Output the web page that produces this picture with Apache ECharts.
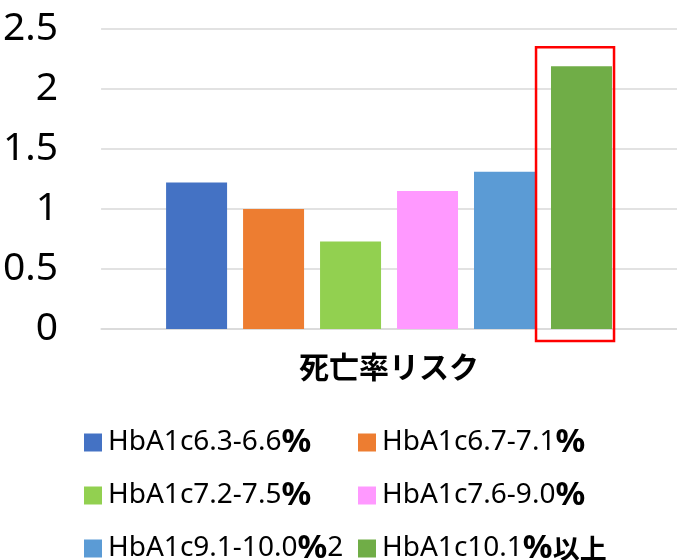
<!DOCTYPE html>
<html>
<head>
<meta charset="utf-8">
<script src="https://cdn.jsdelivr.net/npm/echarts@6/dist/echarts.min.js"></script>
<style>
  html, body { margin: 0; padding: 0; background: #fff; }
  #chart { width: 677px; height: 560px; }
</style>
</head>
<body>
<div id="chart"></div>
<script>
// data
var categories = ["死亡率リスク"];
var seriesNames = [
  "HbA1c6.3-6.6%",
  "HbA1c6.7-7.1%",
  "HbA1c7.2-7.5%",
  "HbA1c7.6-9.0%",
  "HbA1c9.1-10.0%2",
  "HbA1c10.1%以上"
];
var riskValues = [1.22, 1.0, 0.73, 1.15, 1.31, 2.19];
var colors = ["#4472C4", "#ED7D31", "#92D050", "#FF99FF", "#5B9BD5", "#70AD47"];
var highlightIndex = 5;

var BAR_W = 61;
var BAR_GAP = 16;

var chart = echarts.init(document.getElementById("chart"));

var series = seriesNames.map(function (name, i) {
  return {
    name: name,
    type: "bar",
    barWidth: BAR_W,
    barGap: (BAR_GAP / BAR_W * 100).toFixed(1) + "%",
    itemStyle: { color: colors[i] },
    data: [riskValues[i]]
  };
});

// "%" and the kanji are drawn heavier in the original legend
function legendLabel(name) {
  return name.replace("%", "{p|%}").replace("以上", "{k|以上}");
}

// one legend per item, laid out 2 columns x 3 rows
var legends = seriesNames.map(function (name, i) {
  return {
    left: i % 2 === 0 ? 84 : 358,
    top: 426 + Math.floor(i / 2) * 53,
    itemWidth: 18,
    itemHeight: 18,
    itemGap: 0,
    icon: "rect",
    selectedMode: false,
    padding: 0,
    formatter: legendLabel,
    textStyle: {
      fontFamily: "Noto Sans, Noto Sans CJK JP",
      fontSize: 28,
      color: "#000",
      padding: [0, 0, 0, 1],
      rich: {
        p: { fontFamily: "Noto Sans", fontSize: 33, fontWeight: "bold", color: "#000" },
        k: { fontFamily: "Noto Sans CJK JP", fontSize: 27, fontWeight: "bold", color: "#000" }
      }
    },
    data: [name]
  };
});

var option = {
  animation: false,
  color: colors,
  grid: { left: 98, right: -3, top: 29, bottom: 231 },
  legend: legends,
  xAxis: {
    type: "category",
    data: categories,
    axisTick: { show: false },
    axisLine: { lineStyle: { color: "#D9D9D9", width: 1.5 } },
    axisLabel: {
      margin: 23,
      fontFamily: "Noto Sans CJK JP",
      fontWeight: "bold",
      fontSize: 30,
      color: "#000"
    }
  },
  yAxis: {
    type: "value",
    min: 0,
    max: 2.5,
    interval: 0.5,
    axisLine: { show: false },
    axisTick: { show: false },
    splitLine: { lineStyle: { color: "#D9D9D9", width: 1.5 } },
    axisLabel: {
      margin: 43,
      fontFamily: "Noto Sans",
      fontSize: 39,
      color: "#000"
    }
  },
  series: series
};
chart.setOption(option);

// red box around the highlighted bar
var n = seriesNames.length;
var center = chart.convertToPixel({ xAxisIndex: 0, yAxisIndex: 0 }, [0, riskValues[highlightIndex]]);
var base = chart.convertToPixel({ xAxisIndex: 0, yAxisIndex: 0 }, [0, 0]);
var total = n * BAR_W + (n - 1) * BAR_GAP;
var barX = center[0] - total / 2 + highlightIndex * (BAR_W + BAR_GAP);
chart.setOption({
  graphic: [{
    type: "rect",
    shape: {
      x: barX - 15,
      y: center[1] - 19,
      width: BAR_W + 17,
      height: base[1] - center[1] + 31
    },
    style: { fill: null, stroke: "#FF0000", lineWidth: 2.5 },
    z: 100
  }]
});
</script>
</body>
</html>
